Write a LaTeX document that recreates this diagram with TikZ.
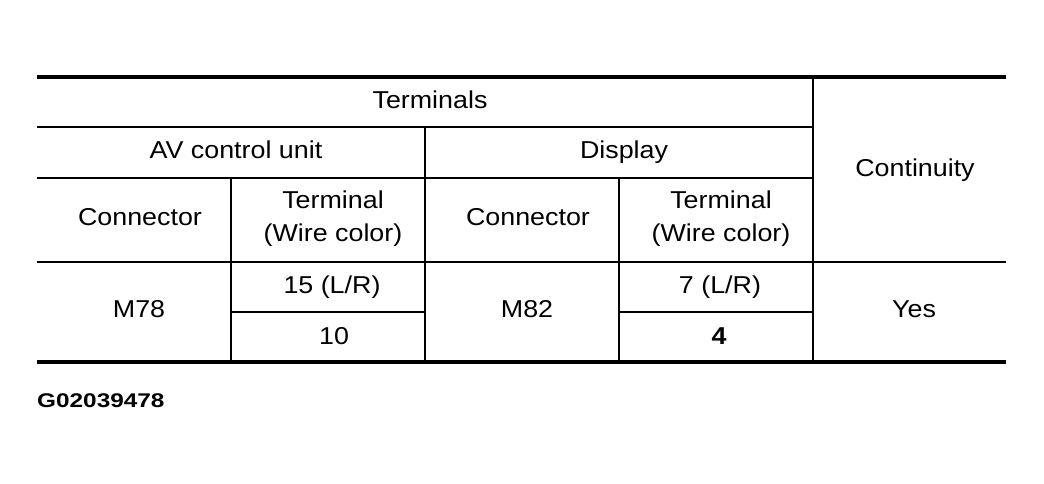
\documentclass[tikz,border=0pt]{standalone}
\usepackage{fontspec}
\setmainfont{Liberation Sans}[FakeStretch=1.1]
\newfontfamily\idfont{Liberation Sans}[FakeStretch=1.23]
\begin{document}
\begin{tikzpicture}[x=1pt,y=-1pt,
  thinline/.style={line width=1.4pt},
  thickline/.style={line width=4pt},
  cell/.style={font=\fontsize{24.4}{33.4}\selectfont, align=center, inner sep=0pt, anchor=base},
  boldcell/.style={cell, font=\fontsize{24.4}{33.4}\selectfont\bfseries}]
\useasboundingbox (0,0) rectangle (1044,484);
% grid
\draw[thinline] (37,127) -- (813,127);
\draw[thinline] (37,178) -- (813,178);
\draw[thinline] (37,262) -- (1006,262);
\draw[thinline] (231,312) -- (425,312);
\draw[thinline] (619,312) -- (813,312);
\draw[thinline] (231,178) -- (231,362);
\draw[thinline] (425,127) -- (425,362);
\draw[thinline] (619,178) -- (619,362);
\draw[thinline] (813,77) -- (813,362);
\draw[thickline] (37,77) -- (1006,77);
\draw[thickline] (37,362) -- (1006,362);
% texts
\node[cell] (terminals) at (430,108.5) {Terminals};
\node[cell] (avcu) at (236,158.5) {AV control unit};
\node[cell] (display) at (624,158.5) {Display};
\node[cell] (cont) at (915,176) {Continuity};
\node[cell] (conn1) at (140,225.7) {Connector};
\node[cell, anchor=center] (term1) at (333,218.5) {Terminal\\(Wire color)};
\node[cell] (conn2) at (528,225.7) {Connector};
\node[cell, anchor=center] (term2) at (721,218.5) {Terminal\\(Wire color)};
\node[cell] (m78) at (139,317.3) {M78};
\node[cell] (t15) at (332,293.3) {15 (L/R)};
\node[cell] (t10) at (334,344.3) {10};
\node[cell] (m82) at (527,317.3) {M82};
\node[cell] (t7) at (720,293.3) {7 (L/R)};
\node[boldcell] (t4) at (719,344.3) {4};
\node[cell] (yes) at (914,317.3) {Yes};
\node[anchor=base west, inner sep=0pt, font=\idfont\fontsize{19.8}{22}\selectfont\bfseries] (gid) at (37,407) {G02039478};
\end{tikzpicture}
\end{document}
